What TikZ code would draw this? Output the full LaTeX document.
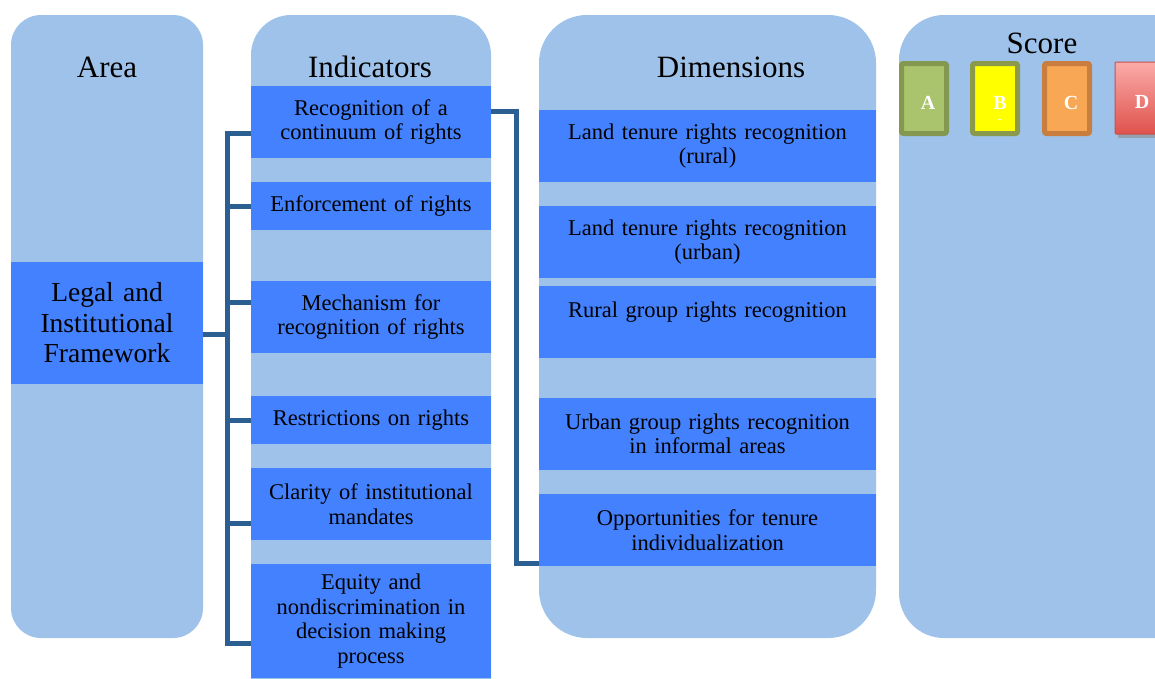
\documentclass[tikz,border=0pt]{standalone}
\usepackage{fontspec}
\setmainfont{Liberation Serif}
\definecolor{colbg}{HTML}{9FC2EA}
\definecolor{boxblue}{HTML}{4381FF}
\definecolor{busblue}{HTML}{2B5E91}
\definecolor{aFill}{HTML}{A9C46C}
\definecolor{aEdge}{HTML}{84994F}
\definecolor{bFill}{HTML}{FFFF00}
\definecolor{bEdge}{HTML}{8A9A4A}
\definecolor{cFill}{HTML}{F8A755}
\definecolor{cEdge}{HTML}{C97D3E}
\definecolor{dTop}{HTML}{FBABA8}
\definecolor{dBot}{HTML}{DF524D}
\definecolor{dEdge}{HTML}{C4524F}
\tikzset{
  column/.style={fill=colbg, draw=none},
  header/.style={font=\fontsize{31}{34}\selectfont, text=black, inner sep=0pt},
  itembox/.style={fill=boxblue, draw=none, inner sep=0pt, align=center,
    font=\fontsize{22.5}{24.5}\selectfont, text=black},
  indbox/.style={itembox, minimum width=240pt, text width=236pt},
  dimbox/.style={itembox, minimum width=337pt, text width=330pt, minimum height=72pt},
  bus/.style={draw=busblue, line width=5pt, line join=miter},
  grade/.style={minimum width=45pt, minimum height=70pt, line width=5pt,
    rounded corners=2pt, inner sep=0pt},
  gradelabel/.style={font=\fontsize{20}{22}\selectfont\bfseries, text=white, inner sep=0pt}
}
\begin{document}
\begin{tikzpicture}[x=1pt,y=-1pt]
\useasboundingbox (0,0) rectangle (1155,678);
\begin{scope}
\clip (0,0) rectangle (1155,678);

% background columns
\fill[column, rounded corners=30pt] (11,15) rectangle (203,638);
\fill[column, rounded corners=40pt] (251,15) rectangle (491,720);
\fill[column, rounded corners=48pt] (539,15) rectangle (876,638);
\fill[column, rounded corners=45pt] (899,15) rectangle (1200,638);

% column titles
\node[header] (hArea) at (107,67) {Area};
\node[header] (hInd) at (370,67) {Indicators};
\node[header] (hDim) at (731,67) {Dimensions};
\node[header] (hScore) at (1042,43) {Score};

% area
\node[itembox, minimum width=192pt, text width=188pt, minimum height=122pt,
  font=\fontsize{27.5}{30.5}\selectfont] (area) at (107,323)
  {Legal and\\Institutional\\Framework};

% indicators
\node[indbox, minimum height=72pt] (ind1) at (371,122) {Recognition of a\\continuum of rights};
\node[indbox, minimum height=48pt] (ind2) at (371,206) {Enforcement of rights};
\node[indbox, minimum height=72pt] (ind3) at (371,317) {Mechanism for\\recognition of rights};
\node[indbox, minimum height=48pt] (ind4) at (371,420) {Restrictions on rights};
\node[indbox, minimum height=72pt] (ind5) at (371,504) {Clarity of institutional\\mandates};
\node[indbox, minimum height=114pt] (ind6) at (371,621) {Equity and\\nondiscrimination in\\decision making\\process};

% dimensions
\node[dimbox] (dim1) at (707.5,146) {Land tenure rights recognition\\(rural)};
\node[dimbox] (dim2) at (707.5,242) {Land tenure rights recognition\\(urban)};
\node[dimbox] (dim3) at (707.5,322) {Rural group rights recognition\\~};
\node[dimbox] (dim4) at (707.5,434) {Urban group rights recognition\\in informal areas};
\node[dimbox] (dim5) at (707.5,530) {Opportunities for tenure\\individualization};

% score grades
\node[grade, fill=aFill, draw=aEdge] (gA) at (924,98.5) {};
\node[grade, fill=bFill, draw=bEdge] (gB) at (995,98.5) {};
\node[grade, fill=cFill, draw=cEdge] (gC) at (1067,98.5) {};
\fill[black!45, opacity=0.6] (1118,66) rectangle (1170,138);
\node[minimum width=50pt, minimum height=72pt, inner sep=0pt, draw=dEdge, line width=1pt,
  top color=dTop, bottom color=dBot, rounded corners=1pt] (gD) at (1140,98) {};
\node[gradelabel] (lA) at (928,103) {A};
\node[gradelabel] (lB) at (1000,103) {B};
\node[gradelabel, font=\fontsize{11}{12}\selectfont\bfseries] (lBdash) at (1000,121) {-};
\node[gradelabel] (lC) at (1071,103) {C};
\node[gradelabel] (lD) at (1142,102) {D};

% connector from area to indicators
\coordinate (busL) at (227,0);
\coordinate (a0t) at ([yshift=-11pt]area.east);
\coordinate (i1t) at ([yshift=-11pt]ind1.west);
\coordinate (i2t) at (ind2.west);
\coordinate (i3t) at ([yshift=15pt]ind3.west);
\coordinate (i4t) at (ind4.west);
\coordinate (i5t) at ([yshift=-19pt]ind5.west);
\coordinate (i6t) at ([yshift=-22pt]ind6.west);
\draw[bus] (i1t) -| (busL |- i6t) -- (i6t);
\draw[bus] (a0t) -- (busL |- a0t);
\draw[bus] (busL |- i2t) -- (i2t);
\draw[bus] (busL |- i3t) -- (i3t);
\draw[bus] (busL |- i4t) -- (i4t);
\draw[bus] (busL |- i5t) -- (i5t);

% connector from indicators to dimensions
\coordinate (busR) at (516,0);
\coordinate (r1t) at ([yshift=11pt]ind1.east);
\coordinate (d5t) at ([yshift=-33pt]dim5.west);
\draw[bus] (r1t) -| (busR |- d5t) -- (d5t);
\end{scope}
\end{tikzpicture}
\end{document}
